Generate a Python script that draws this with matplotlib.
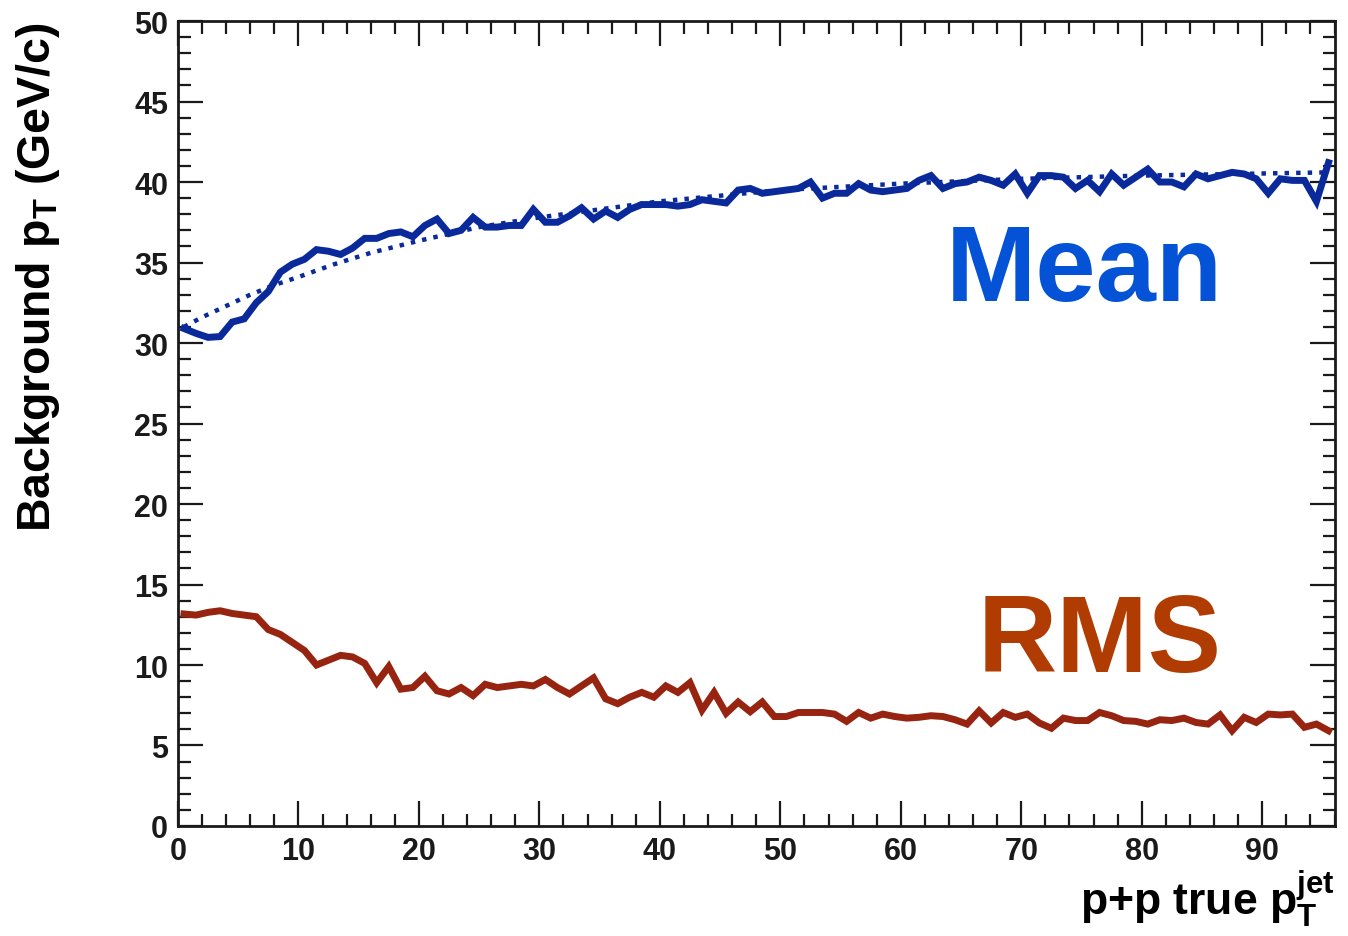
import matplotlib
matplotlib.use("Agg")
import matplotlib.pyplot as plt
import numpy as np
from matplotlib.ticker import MultipleLocator

plt.rcParams["font.family"] = ["Liberation Sans", "DejaVu Sans"]
plt.rcParams["font.weight"] = "bold"
plt.rcParams["mathtext.fontset"] = "custom"
plt.rcParams["mathtext.rm"] = "Liberation Sans:bold"
plt.rcParams["mathtext.bf"] = "Liberation Sans:bold"
plt.rcParams["mathtext.it"] = "Liberation Sans:bold"

# bin centres of the p+p true jet pT histogram (1 GeV/c bins)
pt_bins = np.arange(0.5, 96.0, 1.0)

# mean background pT per bin
mean_pt = [
    30.9, 30.6, 30.35, 30.4, 31.3, 31.5, 32.5, 33.2, 34.4, 34.9,
    35.2, 35.8, 35.7, 35.5, 35.9, 36.5, 36.5, 36.8, 36.9, 36.6,
    37.3, 37.7, 36.8, 37.0, 37.8, 37.2, 37.2, 37.3, 37.3, 38.3,
    37.5, 37.5, 37.9, 38.4, 37.7, 38.2, 37.8, 38.3, 38.6, 38.6,
    38.6, 38.5, 38.6, 38.9, 38.8, 38.7, 39.5, 39.6, 39.3, 39.4,
    39.5, 39.6, 40.0, 39.0, 39.3, 39.3, 39.9, 39.5, 39.4, 39.5,
    39.6, 40.1, 40.4, 39.6, 39.9, 40.0, 40.3, 40.1, 39.8, 40.5,
    39.3, 40.4, 40.4, 40.3, 39.6, 40.1, 39.4, 40.5, 39.8, 40.3,
    40.8, 40.0, 40.0, 39.7, 40.5, 40.2, 40.4, 40.6, 40.5, 40.2,
    39.3, 40.2, 40.1, 40.1, 38.8, 41.2,
]

# RMS of background pT per bin
rms_pt = [
    13.17, 13.1, 13.27, 13.37, 13.2, 13.1, 13.0, 12.2, 11.9, 11.4,
    10.9, 10.0, 10.3, 10.6, 10.5, 10.1, 8.9, 9.9, 8.5, 8.6,
    9.3, 8.4, 8.2, 8.6, 8.1, 8.8, 8.6, 8.7, 8.8, 8.7,
    9.1, 8.6, 8.2, 8.7, 9.2, 7.9, 7.6, 8.0, 8.3, 8.0,
    8.7, 8.3, 8.9, 7.2, 8.3, 7.0, 7.7, 7.1, 7.7, 6.8,
    6.8, 7.05, 7.05, 7.05, 6.95, 6.5, 7.05, 6.7, 6.95, 6.8,
    6.7, 6.75, 6.85, 6.8, 6.6, 6.33, 7.15, 6.4, 7.05, 6.75,
    6.95, 6.4, 6.07, 6.7, 6.55, 6.55, 7.05, 6.85, 6.55, 6.5,
    6.33, 6.6, 6.55, 6.7, 6.43, 6.33, 6.9, 5.92, 6.75, 6.43,
    6.95, 6.9, 6.95, 6.13, 6.33, 5.92,
]

# dotted fit curve to the mean
fit_x = [0.5, 2, 4, 6, 8, 10, 13, 16, 20, 25, 30, 40, 50, 60, 70, 80, 95.5]
fit_y = [31.0, 31.6, 32.3, 33.0, 33.6, 34.1, 34.9, 35.6, 36.35, 37.2,
         37.8, 38.8, 39.5, 39.9, 40.2, 40.4, 40.6]

MEAN_LINE = "#0a2a9c"
MEAN_TEXT = "#0453d6"
RMS_LINE = "#962410"
RMS_TEXT = "#b03c02"

fig = plt.figure(figsize=(13.48, 9.37), dpi=100)
ax = fig.add_axes([0.132, 0.1174, 0.858, 0.8591])

ax.plot(fit_x, fit_y, color=MEAN_LINE, lw=3.2, ls=(0, (1, 1.6)))
ax.plot(pt_bins, mean_pt, color=MEAN_LINE, lw=5, solid_joinstyle="miter")
ax.plot(pt_bins, rms_pt, color=RMS_LINE, lw=5, solid_joinstyle="miter")

ax.text(63.7, 32.7, "Mean", color=MEAN_TEXT, fontsize=78,
        fontweight="bold", ha="left", va="baseline")
ax.text(66.4, 9.6, "RMS", color=RMS_TEXT, fontsize=79,
        fontweight="bold", ha="left", va="baseline")

ax.set_xlim(0, 96)
ax.set_ylim(0, 50)
ax.xaxis.set_major_locator(MultipleLocator(10))
ax.xaxis.set_minor_locator(MultipleLocator(2))
ax.yaxis.set_major_locator(MultipleLocator(5))
ax.yaxis.set_minor_locator(MultipleLocator(1))
ax.tick_params(which="both", direction="in", top=True, right=True,
               width=1.6, colors="#1a1a1a", labelsize=22)
ax.tick_params(which="major", length=18, pad=7)
ax.tick_params(which="minor", length=9)
for s in ax.spines.values():
    s.set_linewidth(2)
    s.set_color("#1a1a1a")

ax.set_ylabel(r"Background p$_{\mathbf{T}}$ (GeV/c)", fontsize=33.5,
              fontweight="bold", loc="top")
ax.yaxis.set_label_coords(-0.1, 1.0)
ax.set_xlabel(r"p+p true p$_{\mathbf{T}}^{\mathbf{jet}}$", fontsize=32,
              fontweight="bold", loc="right")
ax.xaxis.set_label_coords(1.0, -0.052)

fig.savefig("out.png", dpi=100)
